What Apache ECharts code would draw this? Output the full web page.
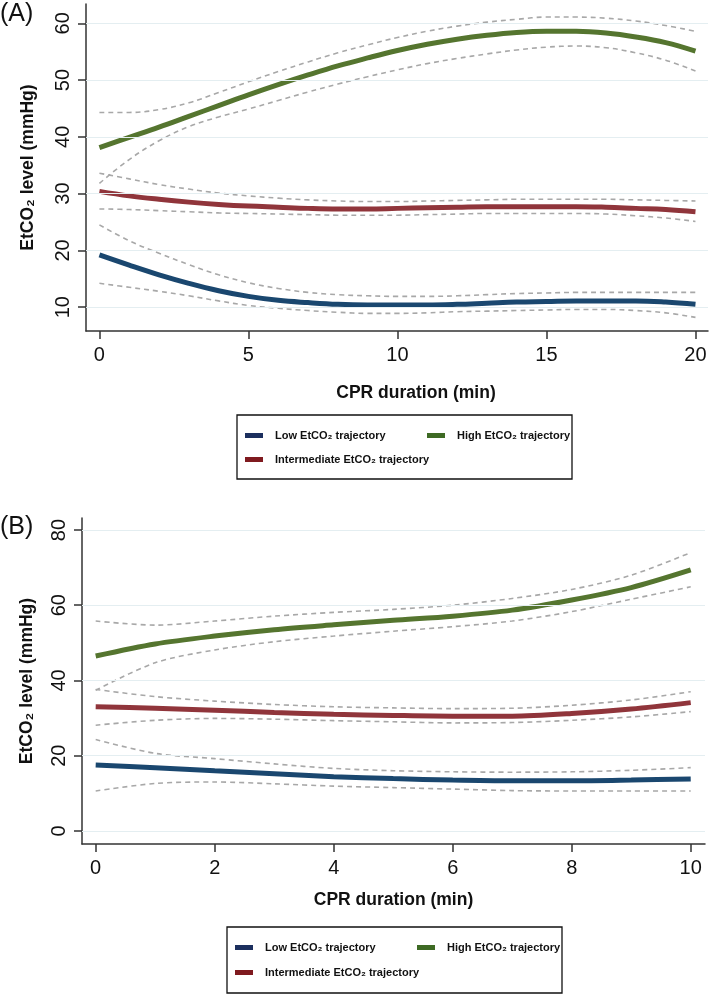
<!DOCTYPE html>
<html>
<head>
<meta charset="utf-8">
<script src="https://cdn.jsdelivr.net/npm/echarts@6/dist/echarts.min.js"></script>
<style>
html,body{margin:0;padding:0;background:#fff;}
#chart{width:711px;height:995px;}
</style>
</head>
<body>
<div id="chart"></div>
<script>
// ---------- Panel A data (0-20 min) ----------
const minutesA = [0,1,2,3,4,5,6,7,8,9,10,11,12,13,14,15,16,17,18,19,20];
const lowA    = [19.2,17.4,15.7,14.2,12.9,11.9,11.2,10.8,10.5,10.4,10.4,10.4,10.5,10.7,10.9,11.0,11.1,11.1,11.1,10.9,10.5];
const lowAHi  = [24.5,21.7,19.5,17.5,15.7,14.3,13.3,12.6,12.2,12.0,11.9,11.9,12.0,12.2,12.4,12.5,12.6,12.6,12.6,12.6,12.6];
const lowALo  = [14.2,13.5,12.8,12.0,11.1,10.3,9.8,9.4,9.1,8.9,8.9,9.0,9.2,9.3,9.4,9.5,9.6,9.6,9.4,9.0,8.2];
const midA    = [30.4,29.6,29.0,28.5,28.1,27.8,27.6,27.4,27.3,27.3,27.4,27.5,27.6,27.7,27.7,27.7,27.7,27.6,27.4,27.2,26.8];
const midAHi  = [33.6,32.6,31.6,30.8,30.1,29.6,29.2,28.9,28.7,28.6,28.6,28.7,28.8,28.9,29.0,29.0,29.0,29.0,28.9,28.8,28.7];
const midALo  = [27.3,27.2,27.0,26.8,26.6,26.5,26.4,26.3,26.2,26.2,26.2,26.3,26.4,26.5,26.5,26.5,26.5,26.4,26.1,25.7,25.1];
const highA   = [38.1,39.9,41.7,43.6,45.5,47.4,49.2,50.9,52.5,53.9,55.2,56.3,57.2,57.9,58.4,58.6,58.6,58.3,57.6,56.6,55.1];
const highAHi = [44.3,44.3,44.8,46.0,47.8,49.7,51.5,53.2,54.8,56.2,57.5,58.6,59.5,60.2,60.7,61.1,61.1,60.9,60.4,59.6,58.6];
const highALo = [31.8,36.0,39.3,41.8,43.5,44.9,46.4,47.9,49.3,50.6,51.8,52.9,53.8,54.6,55.3,55.8,56.0,55.7,54.8,53.5,51.6];
const xTicksA = [0,5,10,15,20];
const yTicksA = [10,20,30,40,50,60];

// ---------- Panel B data (0-10 min) ----------
const minutesB = [0,1,2,3,4,5,6,7,8,9,10];
const lowB    = [17.5,16.8,16.0,15.2,14.4,13.9,13.5,13.3,13.3,13.5,13.8];
const lowBHi  = [24.3,20.6,19.2,17.8,16.6,16.0,15.7,15.6,15.7,16.1,16.8];
const lowBLo  = [10.6,12.6,13.0,12.5,11.9,11.5,11.1,10.7,10.6,10.6,10.6];
const midB    = [33.0,32.6,32.1,31.5,31.0,30.7,30.5,30.5,31.2,32.4,34.1];
const midBHi  = [37.6,35.7,34.5,33.6,33.0,32.7,32.5,32.6,33.4,34.8,37.0];
const midBLo  = [28.1,29.4,29.9,29.7,29.3,29.0,28.7,28.8,29.4,30.3,31.7];
const highB   = [46.5,49.7,51.8,53.5,54.8,56.0,57.1,58.7,61.4,64.7,69.4];
const highBHi = [55.8,54.7,55.8,57.1,58.1,58.9,60.0,61.8,64.2,68.0,74.0];
const highBLo = [37.4,44.7,48.1,50.3,51.8,53.1,54.3,55.8,58.3,61.6,64.9];
const xTicksB = [0,2,4,6,8,10];
const yTicksB = [0,20,40,60,80];

const seriesNames = ['Low EtCO\u2082 trajectory','Intermediate EtCO\u2082 trajectory','High EtCO\u2082 trajectory'];
const lineColors = ['#1a476f','#90353b','#55752f'];
const legendColors = ['#1c2f5e','#7f1a1f','#3e6a24'];

const SANS = "'Liberation Sans',Arial,sans-serif";
const pairs = (xs, ys) => xs.map((x, i) => [x, ys[i]]);

function xAxisCfg(gridIndex, min, max, ticks, nameGap, namePad) {
  return {
    type: 'value', gridIndex, min, max,
    name: 'CPR duration (min)', nameLocation: 'middle', nameGap,
    nameTextStyle: { fontFamily: SANS, fontWeight: 'bold', fontSize: 17.5, color: '#111', padding: namePad },
    axisLine: { show: true, onZero: false, lineStyle: { color: '#333', width: 1.5 } },
    axisTick: { show: true, length: 8, customValues: ticks, lineStyle: { color: '#333', width: 1.5 } },
    axisLabel: { customValues: ticks, margin: 14, fontFamily: SANS, fontSize: 20, color: '#111' },
    splitLine: { show: false }
  };
}
function yAxisCfg(gridIndex, min, max, ticks, nameGap) {
  return {
    type: 'value', gridIndex, min, max,
    name: 'EtCO\u2082 level (mmHg)', nameLocation: 'middle', nameGap, nameRotate: 90,
    nameTextStyle: { fontFamily: SANS, fontWeight: 'bold', fontSize: 17.5, color: '#111' },
    axisLine: { show: true, onZero: false, lineStyle: { color: '#333', width: 1.5 } },
    axisTick: { show: true, length: 8, customValues: ticks, lineStyle: { color: '#333', width: 1.5 } },
    axisLabel: { customValues: ticks, rotate: 90, margin: 13, fontFamily: SANS, fontSize: 20, color: '#111' },
    splitLine: { show: false }
  };
}

function gridSeries(idx, ticks) {
  return {
    type: 'line', xAxisIndex: idx, yAxisIndex: idx, data: [], silent: true, z: 1,
    markLine: {
      silent: true, symbol: ['none','none'], animation: false,
      label: { show: false },
      lineStyle: { type: 'solid', color: '#e4eef1', width: 1.2 },
      emphasis: { disabled: true },
      data: ticks.map(v => ({ yAxis: v }))
    }
  };
}
function ciSeries(idx, xs, ys, smooth) {
  return {
    type: 'line', xAxisIndex: idx, yAxisIndex: idx, data: pairs(xs, ys),
    showSymbol: false, symbol: 'none', smooth, silent: true, z: 2,
    lineStyle: { color: '#a8a8a8', width: 1.6, type: [5, 4] }
  };
}
function mainSeries(idx, k, xs, ys, smooth) {
  return {
    name: seriesNames[k], type: 'line', xAxisIndex: idx, yAxisIndex: idx, data: pairs(xs, ys),
    showSymbol: false, symbol: 'none', smooth, silent: true, z: 3,
    itemStyle: { color: lineColors[k] },
    lineStyle: { color: lineColors[k], width: 5 }
  };
}
function legendItem(k, left, top) {
  return {
    show: true, selectedMode: false, left, top, orient: 'horizontal',
    icon: 'rect', itemWidth: 18, itemHeight: 5, itemGap: 0, padding: 0,
    data: [{ name: seriesNames[k], itemStyle: { color: legendColors[k] } }],
    textStyle: { fontFamily: SANS, fontWeight: 'bold', fontSize: 11, color: '#111', padding: [0,0,0,7] }
  };
}

const option = {
  animation: false,
  backgroundColor: '#fff',
  title: [
    { text: '(A)', left: 0, top: 2, padding: 0, textStyle: { fontFamily: SANS, fontWeight: 'normal', fontSize: 25, color: '#111' } },
    { text: '(B)', left: 0, top: 515, padding: 0, textStyle: { fontFamily: SANS, fontWeight: 'normal', fontSize: 25, color: '#111' } }
  ],
  grid: [
    { left: 86, right: 3, top: 4, bottom: 664, containLabel: false },
    { left: 82, right: 6, top: 518, bottom: 151, containLabel: false }
  ],
  xAxis: [
    xAxisCfg(0, -0.45, 20.42, xTicksA, 53, [0,0,0,38]),
    xAxisCfg(1, -0.23, 10.24, xTicksB, 47, 0)
  ],
  yAxis: [
    yAxisCfg(0, 5.8, 63.4, yTicksA, 49),
    yAxisCfg(1, -3.5, 83.2, yTicksB, 46)
  ],
  legend: [
    legendItem(0, 245, 430),
    legendItem(2, 427, 430),
    legendItem(1, 245, 454),
    legendItem(0, 235, 942),
    legendItem(2, 417, 942),
    legendItem(1, 235, 967)
  ],
  graphic: [
    { type: 'rect', shape: { x: 237, y: 415, width: 335, height: 64 }, style: { fill: 'none', stroke: '#111', lineWidth: 1.3 }, silent: true },
    { type: 'rect', shape: { x: 227, y: 927, width: 335, height: 66 }, style: { fill: 'none', stroke: '#111', lineWidth: 1.3 }, silent: true }
  ],
  series: [
    gridSeries(0, yTicksA),
    ciSeries(0, minutesA, lowAHi, 0.4), ciSeries(0, minutesA, lowALo, 0.4),
    ciSeries(0, minutesA, midAHi, 0.4), ciSeries(0, minutesA, midALo, 0.4),
    ciSeries(0, minutesA, highAHi, 0.4), ciSeries(0, minutesA, highALo, 0.4),
    mainSeries(0, 0, minutesA, lowA, 0.4),
    mainSeries(0, 1, minutesA, midA, 0.4),
    mainSeries(0, 2, minutesA, highA, 0.4),
    gridSeries(1, yTicksB),
    ciSeries(1, minutesB, lowBHi, 0.3), ciSeries(1, minutesB, lowBLo, 0.3),
    ciSeries(1, minutesB, midBHi, 0.3), ciSeries(1, minutesB, midBLo, 0.3),
    ciSeries(1, minutesB, highBHi, 0.3), ciSeries(1, minutesB, highBLo, 0.3),
    mainSeries(1, 0, minutesB, lowB, 0.3),
    mainSeries(1, 1, minutesB, midB, 0.3),
    mainSeries(1, 2, minutesB, highB, 0.3)
  ]
};

const chart = echarts.init(document.getElementById('chart'), null, { renderer: 'canvas' });
chart.setOption(option);
</script>
</body>
</html>
